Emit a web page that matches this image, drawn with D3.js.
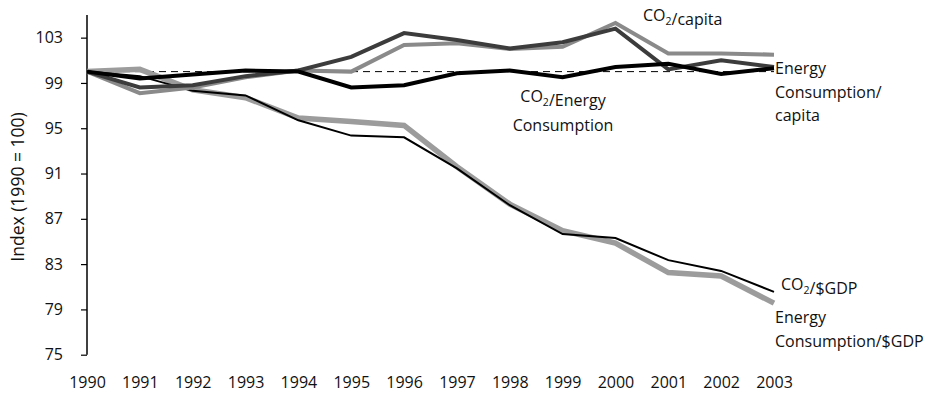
<!DOCTYPE html>
<html>
<head>
<meta charset="utf-8">
<script src="https://cdn.jsdelivr.net/npm/d3@7"></script>
<style>
  html, body { margin: 0; padding: 0; background: #fff; }
  svg text { font-family: "Open Sans", sans-serif; fill: #111; }
</style>
</head>
<body>
<svg id="chart" width="935" height="398"></svg>
<script>
// Indexed indicators, 1990 = 100
const years = [1990, 1991, 1992, 1993, 1994, 1995, 1996, 1997, 1998, 1999, 2000, 2001, 2002, 2003];
const energyPerGDP    = [100, 100.2, 98.4, 97.7, 95.9, 95.6, 95.25, 91.6, 88.3, 85.95, 84.85, 82.25, 81.95, 79.55];
const co2PerGDP       = [100, 99.6, 98.3, 97.9, 95.7, 94.35, 94.2, 91.45, 88.2, 85.65, 85.3, 83.35, 82.4, 80.55];
const co2PerCapita    = [100, 98.1, 98.6, 99.5, 100.1, 100.0, 102.35, 102.5, 102.0, 102.2, 104.3, 101.6, 101.6, 101.5];
const energyPerCapita = [100, 98.6, 98.8, 99.6, 100.1, 101.3, 103.4, 102.8, 102.05, 102.6, 103.8, 100.2, 101.0, 100.4];
const co2PerEnergy    = [100, 99.4, 99.75, 100.1, 100.0, 98.6, 98.8, 99.85, 100.1, 99.5, 100.4, 100.7, 99.8, 100.3];
const yTicks = [75, 79, 83, 87, 91, 95, 99, 103];
const baseline = 100;

const fontSize = 16;
const svg = d3.select("#chart");
const x = d3.scaleLinear().domain([1990, 2003]).range([87, 774]);
const y = d3.scaleLinear().domain([75, 105]).range([354.7, 15]);

// Y axis (no horizontal axis line)
const yAxis = svg.append("g")
  .attr("transform", "translate(87,0)")
  .call(d3.axisLeft(y).tickValues(yTicks).tickSize(6).tickPadding(18).tickFormat(d3.format("d")));
yAxis.select(".domain").attr("d", `M0,${y(105)}V${y(75)}`).attr("stroke", "#000").attr("stroke-width", 1.5);
yAxis.selectAll(".tick line").attr("stroke", "#000").attr("stroke-width", 1.2);
yAxis.selectAll(".tick text").attr("font-size", fontSize).attr("font-family", "Open Sans, sans-serif").attr("fill", "#111");

// Year labels
const xAxis = svg.append("g")
  .attr("transform", "translate(0,372)")
  .call(d3.axisBottom(x).tickValues(years).tickSize(0).tickPadding(5).tickFormat(d3.format("d")));
xAxis.select(".domain").remove();
xAxis.selectAll(".tick text").attr("font-size", fontSize).attr("font-family", "Open Sans, sans-serif").attr("fill", "#111");

// Axis title
svg.append("text")
  .attr("transform", "translate(24,187) rotate(-90)")
  .attr("text-anchor", "middle")
  .attr("font-size", 17.5)
  .text("Index (1990 = 100)");

// Reference level at 100
svg.append("line")
  .attr("x1", x(1990)).attr("x2", x(2003))
  .attr("y1", y(baseline)).attr("y2", y(baseline))
  .attr("stroke", "#000").attr("stroke-width", 1).attr("stroke-dasharray", "7,5");

const line = d3.line().x((d, i) => x(years[i])).y(d => y(d));

const series = [
  { values: energyPerGDP,    color: "#9c9c9c", width: 5.5 },
  { values: co2PerGDP,       color: "#000000", width: 2 },
  { values: co2PerCapita,    color: "#8a8a8a", width: 4 },
  { values: energyPerCapita, color: "#3c3c3c", width: 4 },
  { values: co2PerEnergy,    color: "#000000", width: 4 }
];

svg.selectAll("path.series")
  .data(series)
  .join("path")
  .attr("class", "series")
  .attr("d", d => line(d.values))
  .attr("fill", "none")
  .attr("stroke", d => d.color)
  .attr("stroke-width", d => d.width)
  .attr("stroke-linejoin", "miter");

// Series labels
function label(lines, xPos, yPos, anchor, lh) {
  const t = svg.append("text")
    .attr("x", xPos).attr("y", yPos)
    .attr("text-anchor", anchor)
    .attr("font-size", fontSize);
  lines.forEach((ln, i) => {
    const row = t.append("tspan").attr("x", xPos).attr("dy", i === 0 ? 0 : lh);
    ln.forEach(part => {
      if (part.sub) {
        row.append("tspan").attr("font-size", 10.5).attr("dy", 4).text(part.sub);
        row.append("tspan").attr("dy", -4).text("");
      } else {
        row.append("tspan").text(part.t);
      }
    });
  });
}

label([[{ t: "CO" }, { sub: "2" }, { t: "/capita" }]], 643, 21, "start", 0);
label([[{ t: "Energy" }], [{ t: "Consumption/" }], [{ t: "capita" }]], 775, 74, "start", 23.5);
label([[{ t: "CO" }, { sub: "2" }, { t: "/Energy" }], [{ t: "Consumption" }]], 563, 102, "middle", 25);
label([[{ t: "CO" }, { sub: "2" }, { t: "/$GDP" }]], 781, 290, "start", 0);
label([[{ t: "Energy" }], [{ t: "Consumption/$GDP" }]], 775, 323, "start", 23.5);
</script>
</body>
</html>
